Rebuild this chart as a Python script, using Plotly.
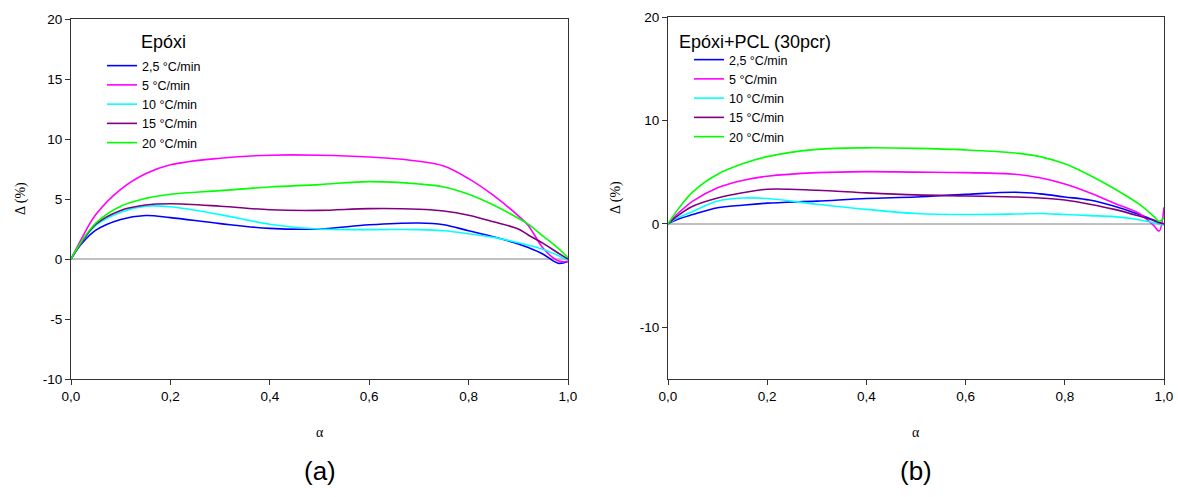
import plotly.graph_objects as go

# ---------------- data ----------------
series_names = ["2,5 °C/min", "5 °C/min", "10 °C/min", "15 °C/min", "20 °C/min"]
series_colors = ["#0000FF", "#FF00FF", "#00FFFF", "#800080", "#00FF00"]

alpha_a = [0, 0.02, 0.05, 0.1, 0.15, 0.2, 0.3, 0.4, 0.5, 0.6, 0.7, 0.75, 0.8, 0.85, 0.9, 0.92, 0.95, 0.98, 1.0]
a_25 = [0, 1.2, 2.4, 3.3, 3.62, 3.45, 2.95, 2.55, 2.5, 2.85, 3.0, 2.85, 2.35, 1.85, 1.25, 0.95, 0.4, -0.35, -0.2]
a_5 = [0, 1.6, 3.7, 5.8, 7.1, 7.85, 8.4, 8.65, 8.65, 8.5, 8.15, 7.75, 6.7, 5.3, 3.6, 2.8, 0.9, -0.15, -0.2]
a_10 = [0, 1.3, 2.8, 3.9, 4.4, 4.35, 3.7, 2.9, 2.5, 2.45, 2.45, 2.35, 2.1, 1.8, 1.35, 1.15, 0.8, 0.3, -0.1]
a_15 = [0, 1.3, 2.9, 4.05, 4.5, 4.6, 4.4, 4.1, 4.05, 4.2, 4.15, 4.0, 3.65, 3.1, 2.5, 2.0, 1.3, 0.5, 0]
a_20 = [0, 1.4, 3.0, 4.4, 5.05, 5.4, 5.7, 6.0, 6.2, 6.45, 6.25, 6.0, 5.4, 4.5, 3.4, 2.9, 1.9, 0.9, 0.1]

alpha_b = [0, 0.02, 0.05, 0.1, 0.15, 0.2, 0.3, 0.4, 0.5, 0.6, 0.7, 0.75, 0.8, 0.85, 0.9, 0.95, 0.98, 0.99, 1.0]
b_25 = [0, 0.45, 0.9, 1.55, 1.8, 2.0, 2.2, 2.45, 2.6, 2.85, 3.05, 2.9, 2.6, 2.3, 1.7, 0.9, 0.35, 0.15, 0]
b_5 = [0, 1.0, 2.2, 3.5, 4.2, 4.6, 4.95, 5.05, 5.0, 4.95, 4.8, 4.45, 3.85, 3.0, 2.0, 1.0, -0.2, -0.7, 1.6]
b_10 = [0, 0.6, 1.2, 2.2, 2.5, 2.45, 1.9, 1.4, 1.0, 0.9, 0.95, 1.0, 0.9, 0.8, 0.7, 0.4, 0.1, 0.0, -0.1]
b_15 = [0, 0.8, 1.7, 2.5, 3.0, 3.35, 3.25, 3.0, 2.8, 2.7, 2.6, 2.5, 2.3, 1.9, 1.4, 0.75, 0.3, 0.1, 0]
b_20 = [0, 1.4, 3.1, 4.8, 5.8, 6.5, 7.2, 7.35, 7.3, 7.15, 6.85, 6.5, 5.8, 4.7, 3.4, 1.9, 0.7, 0.25, 0.6]

panel_a = [a_25, a_5, a_10, a_15, a_20]
panel_b = [b_25, b_5, b_10, b_15, b_20]

x_ticks = [0, 0.2, 0.4, 0.6, 0.8, 1.0]
ya_ticks = [-10, -5, 0, 5, 10, 15, 20]
ya_text = ["-10", "-5", "0", "5", "10", "15", "20"]
yb_ticks = [-10, 0, 10, 20]
yb_text = ["-10", "0", "10", "20"]

# ---------------- figure ----------------
W, H = 1178, 497
def px_x(p): return p / W
def px_y(p): return 1 - p / H

fig = go.Figure()
for name, col, ys in zip(series_names, series_colors, panel_a):
    fig.add_trace(go.Scatter(x=alpha_a, y=ys, mode="lines", name=name,
                             line=dict(color=col, width=1.6, shape="spline", smoothing=1.0),
                             xaxis="x", yaxis="y", legend="legend"))
for name, col, ys in zip(series_names, series_colors, panel_b):
    fig.add_trace(go.Scatter(x=alpha_b, y=ys, mode="lines", name=name,
                             line=dict(color=col, width=1.6, shape="spline", smoothing=1.0),
                             xaxis="x2", yaxis="y2", legend="legend2"))

axis_common = dict(showgrid=False, showline=True, linecolor="#333333", linewidth=1,
                   mirror=True, ticks="outside", ticklen=5, tickcolor="#333333",
                   tickfont=dict(family="Liberation Sans, Arial", size=13.5, color="#000"))

xa = dict(axis_common, range=[0, 1], tickvals=x_ticks, tickformat=".1f", zeroline=False)
fig.update_layout(
    width=W, height=H, margin=dict(l=0, r=0, t=0, b=0, autoexpand=False),
    paper_bgcolor="white", plot_bgcolor="white", separators=",.",
    xaxis=dict(xa, domain=[px_x(71), px_x(568)], anchor="y"),
    yaxis=dict(axis_common, domain=[px_y(379), px_y(19)], anchor="x", range=[-10, 20],
               tickvals=ya_ticks, ticktext=ya_text, zeroline=True, zerolinecolor="#C0C0C0", zerolinewidth=1.6),
    xaxis2=dict(xa, domain=[px_x(668), px_x(1164)], anchor="y2"),
    yaxis2=dict(axis_common, domain=[px_y(379), px_y(17)], anchor="x2", range=[-15, 20],
                tickvals=yb_ticks, ticktext=yb_text, zeroline=True, zerolinecolor="#C0C0C0", zerolinewidth=1.6),
    legend=dict(x=px_x(102), y=px_y(51), xanchor="left", yanchor="top",
                bgcolor="rgba(0,0,0,0)", font=dict(family="Liberation Sans, Arial", size=12.5, color="#000"),
                tracegroupgap=0),
    legend2=dict(x=px_x(689), y=px_y(45), xanchor="left", yanchor="top",
                 bgcolor="rgba(0,0,0,0)", font=dict(family="Liberation Sans, Arial", size=12.5, color="#000"),
                 tracegroupgap=0),
    showlegend=True,
)

ann_font = dict(family="Liberation Sans, Arial", color="#000")
serif = dict(family="Liberation Serif, Times New Roman", color="#000", size=14)
anns = [
    dict(x=px_x(139), y=px_y(42), text="Epóxi", xanchor="left", yanchor="middle", font=dict(ann_font, size=18)),
    dict(x=px_x(677), y=px_y(42), text="Epóxi+PCL (30pcr)", xanchor="left", yanchor="middle", font=dict(ann_font, size=18)),
    dict(x=px_x(319.5), y=px_y(432), text="α", xanchor="center", yanchor="middle", font=serif),
    dict(x=px_x(916), y=px_y(432), text="α", xanchor="center", yanchor="middle", font=serif),
    dict(x=px_x(21), y=px_y(199), text="Δ (%)", textangle=-90, xanchor="center", yanchor="middle", font=serif),
    dict(x=px_x(616), y=px_y(198), text="Δ (%)", textangle=-90, xanchor="center", yanchor="middle", font=serif),
    dict(x=px_x(319.5), y=px_y(471), text="(a)", xanchor="center", yanchor="middle", font=dict(ann_font, size=26)),
    dict(x=px_x(916), y=px_y(471), text="(b)", xanchor="center", yanchor="middle", font=dict(ann_font, size=26)),
]
for a in anns:
    a.update(xref="paper", yref="paper", showarrow=False)
fig.update_layout(annotations=anns)

fig.write_html("out.html", config={"displayModeBar": False},
               post_script="document.body.style.margin='0';document.body.style.overflow='hidden';")
